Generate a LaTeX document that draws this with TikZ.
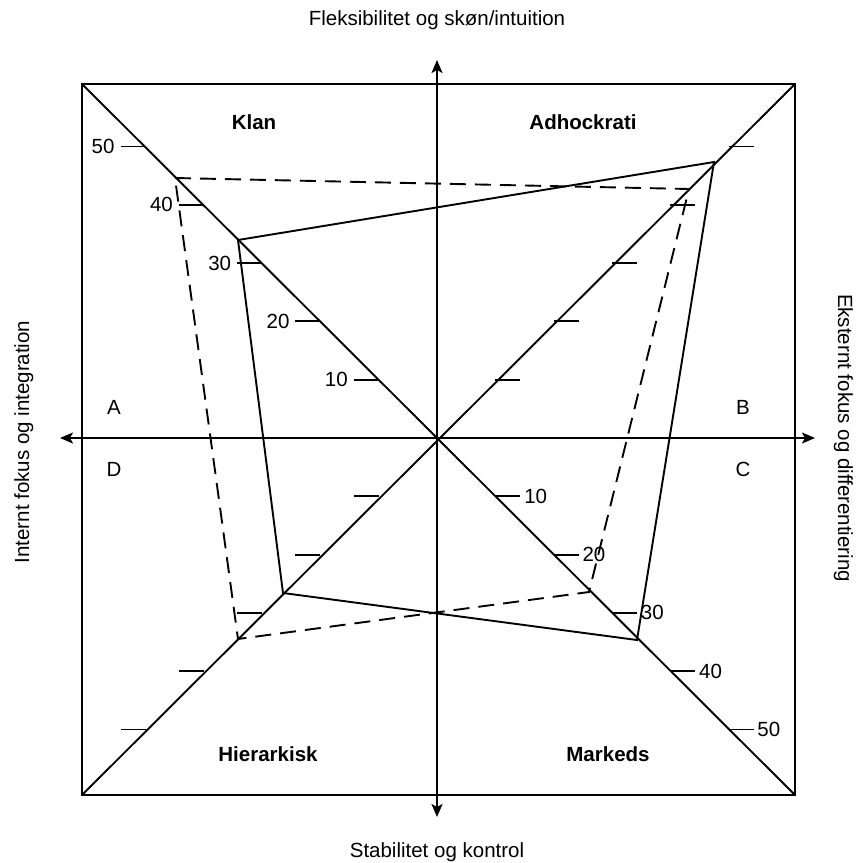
\documentclass[tikz,border=0pt]{standalone}
\usepackage{fontspec}
\setmainfont{Liberation Sans}
\usetikzlibrary{arrows.meta,calc}
\begin{document}
\begin{tikzpicture}[x=1pt,y=-1pt,line width=1.9pt,
  axisarrow/.style={{Stealth[length=13pt,width=11pt,inset=3pt]}-{Stealth[length=13pt,width=11pt,inset=3pt]}},
  lbl/.style={font=\fontsize{20.5}{24}\selectfont,inner sep=0pt},
  quad/.style={font=\fontsize{20.5}{24}\selectfont\bfseries,inner sep=0pt,anchor=base},
  dsh/.style={dash pattern=on 16pt off 9pt}]
\useasboundingbox (0,0) rectangle (859,863);
% frame
\coordinate (O) at (437,438);
\coordinate (TL) at (82,84);
\coordinate (TR) at (795,84);
\coordinate (BR) at (795,795);
\coordinate (BL) at (82,795);
\draw (TL) rectangle (BR);
\draw (TL) -- (BR);
\draw (TR) -- (BL);
% axes
\coordinate (N) at (437,60);
\coordinate (S) at (437,817);
\coordinate (W) at (60,438);
\coordinate (E) at (815,438);
\draw[axisarrow] (S) -- (N);
\draw[axisarrow] (W) -- (E);
% ticks
\foreach \v in {1,...,5}{
  \pgfmathsetmacro\d{58.3*\v}
  \draw ($(O)+(-\d,-\d)$) coordinate (ul\v) -- ++(-25,0) node[lbl,anchor=east,xshift=-5pt] (ull\v) {\v0};
  \draw ($(O)+(\d,-\d)$) coordinate (ur\v) -- ++(25,0);
  \draw ($(O)+(\d,\d)$) coordinate (lr\v) -- ++(25,0) node[lbl,anchor=west,xshift=3pt] (lrl\v) {\v0};
  \draw ($(O)+(-\d,\d)$) coordinate (ll\v) -- ++(-25,0);
}
% profiles
\coordinate (s1) at (238,240);
\coordinate (s2) at (714,162);
\coordinate (s3) at (637,640);
\coordinate (s4) at (283,593);
\draw (s1) -- (s2) -- (s3) -- (s4) -- cycle;
\coordinate (d1) at (175,178);
\coordinate (d2) at (689,189);
\coordinate (d3) at (589,592);
\coordinate (d4) at (238,639);
\draw[dsh] (d1) -- (d2) -- (d3) -- (d4) -- cycle;
% texts
\node[lbl,anchor=base] (ttop) at (437,25) {Fleksibilitet og skøn/intuition};
\node[lbl,anchor=base] (tbot) at (437,857) {Stabilitet og kontrol};
\node[lbl,anchor=base,rotate=90] (tleft) at (29,442) {Internt fokus og integration};
\node[lbl,anchor=base,rotate=-90] (tright) at (838,438) {Eksternt fokus og differentiering};
\node[quad] (klan) at (254,129) {Klan};
\node[quad] (adh) at (583,129) {Adhockrati};
\node[quad] (hier) at (268,761) {Hierarkisk};
\node[quad] (mark) at (608,761) {Markeds};
\node[lbl,anchor=base] (qa) at (114,414) {A};
\node[lbl,anchor=base] (qb) at (743,414) {B};
\node[lbl,anchor=base] (qc) at (743,476) {C};
\node[lbl,anchor=base] (qd) at (114,476) {D};
\end{tikzpicture}
\end{document}
